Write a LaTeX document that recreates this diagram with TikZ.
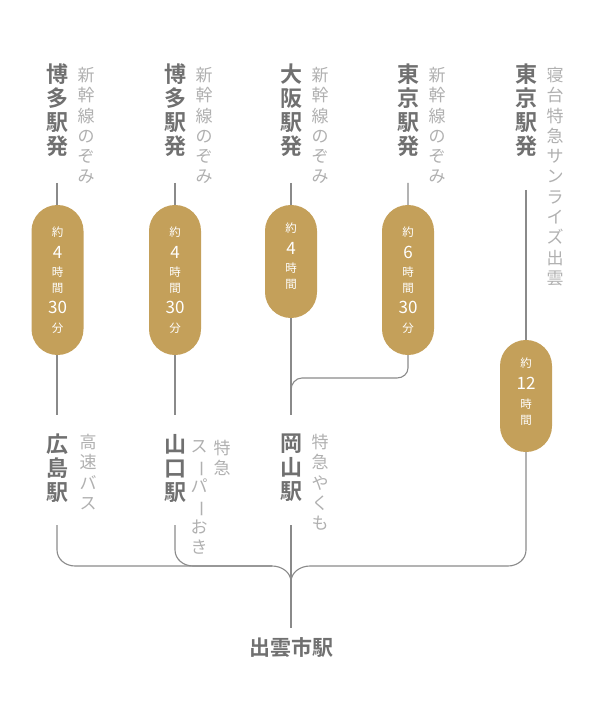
\documentclass[tikz,border=0pt]{standalone}
\usepackage{fontspec}
\setmainfont{Noto Sans CJK JP}
\newfontfamily\jpb{Noto Sans CJK JP}[BoldFont={* Bold}]
\definecolor{gold}{HTML}{C4A05A}
\definecolor{ink}{HTML}{707070}
\definecolor{lite}{HTML}{B0B0B0}
\definecolor{ln}{HTML}{8A8A8A}
\newcommand{\vbar}{\rotatebox[origin=c]{-90}{ー}}
\begin{document}
\begin{tikzpicture}[x=1pt,y=-1pt,
  stn/.style={text=ink,font=\jpb\bfseries\fontsize{22}{24}\selectfont,align=center,anchor=north,inner sep=0},
  sub/.style={text=lite,font=\fontsize{17}{20.3}\selectfont,align=center,anchor=north,inner sep=0},
  pill/.style={fill=gold,rounded corners=25.9},
  sm/.style={text=white,inner sep=0,font=\fontsize{11.5}{13}\selectfont},
  bg/.style={text=white,inner sep=0,font=\fontsize{17}{18}\selectfont},
  line/.style={draw=ln,line width=1.1pt}]
\useasboundingbox (0,0) rectangle (600,727);
% top labels
\node[stn] (s1) at (57,64) {博\\多\\駅\\発};
\node[sub] (n1) at (86,67) {新\\幹\\線\\の\\ぞ\\み};
\node[stn] (s2) at (175,64) {博\\多\\駅\\発};
\node[sub] (n2) at (204,67) {新\\幹\\線\\の\\ぞ\\み};
\node[stn] (s3) at (291,64) {大\\阪\\駅\\発};
\node[sub] (n3) at (320,67) {新\\幹\\線\\の\\ぞ\\み};
\node[stn] (s4) at (408,64) {東\\京\\駅\\発};
\node[sub] (n4) at (437,67) {新\\幹\\線\\の\\ぞ\\み};
\node[stn] (s5) at (526,64) {東\\京\\駅\\発};
\node[sub] (n5) at (555,67) {寝\\台\\特\\急\\サ\\ン\\ラ\\イ\\ズ\\出\\雲};
% pills
\fill[pill] (31.5,205) rectangle (83.5,355);
\fill[pill] (149,205) rectangle (201,355);
\fill[pill] (265,205) rectangle (317,318);
\fill[pill] (382,205) rectangle (434,355);
\fill[pill] (500,340) rectangle (552,452);
\foreach \x/\d/\n in {57.5/4/a,175/4/b,408/6/d}{
  \node[sm] (y\n) at (\x,232) {約};
  \node[bg] (h\n) at (\x,252) {\d};
  \node[sm] (t\n) at (\x,272) {時};
  \node[sm] (k\n) at (\x,288) {間};
  \node[bg] (m\n) at (\x,307) {30};
  \node[sm] (f\n) at (\x,328) {分};
}
\node[sm] (yc) at (291,228) {約};
\node[bg] (hc) at (291,248) {4};
\node[sm] (tc) at (291,268) {時};
\node[sm] (kc) at (291,284) {間};
\node[sm] (ye) at (526,363) {約};
\node[bg] (he) at (526,383) {12};
\node[sm] (te) at (526,404) {時};
\node[sm] (ke) at (526,420) {間};
% bottom labels
\node[stn] (b1) at (57,434) {広\\島\\駅};
\node[sub] (m1) at (88,434) {高\\速\\バ\\ス};
\node[stn] (b2) at (175,434) {山\\口\\駅};
\node[sub] (m2a) at (222,440) {特\\急};
\node[sub] (m2b) at (199,440) {ス\\\vbar\\パ\\\vbar\\お\\き};
\node[stn] (b3) at (291,434) {岡\\山\\駅};
\node[sub] (m3) at (320,434) {特\\急\\や\\く\\も};
\node[text=ink,font=\jpb\bfseries\fontsize{21}{24}\selectfont,inner sep=0] (goal) at (291,648) {出雲市駅};
% lines
\draw[line] (57,183) -- (57,205) (57,355) -- (57,415);
\draw[line] (175,183) -- (175,205) (175,355) -- (175,415);
\draw[line] (291,183) -- (291,205) (291,318) -- (291,415);
\draw[line] (408,183) -- (408,205) (408,355) -- (408,368) to[out=-90,in=0] (397,378) -- (302,378) to[out=180,in=90] (291,390);
\draw[line] (526,190) -- (526,340);
\draw[line] (57,525) -- (57,550) to[out=-90,in=180] (75,566) -- (272,566) to[out=0,in=90] (291,582);
\draw[line] (175,525) -- (175,550) to[out=-90,in=180] (193,566) -- (272,566);
\draw[line] (526,452) -- (526,550) to[out=-90,in=0] (508,566) -- (310,566) to[out=180,in=90] (291,582);
\draw[line] (291,525) -- (291,628);
\end{tikzpicture}
\end{document}
